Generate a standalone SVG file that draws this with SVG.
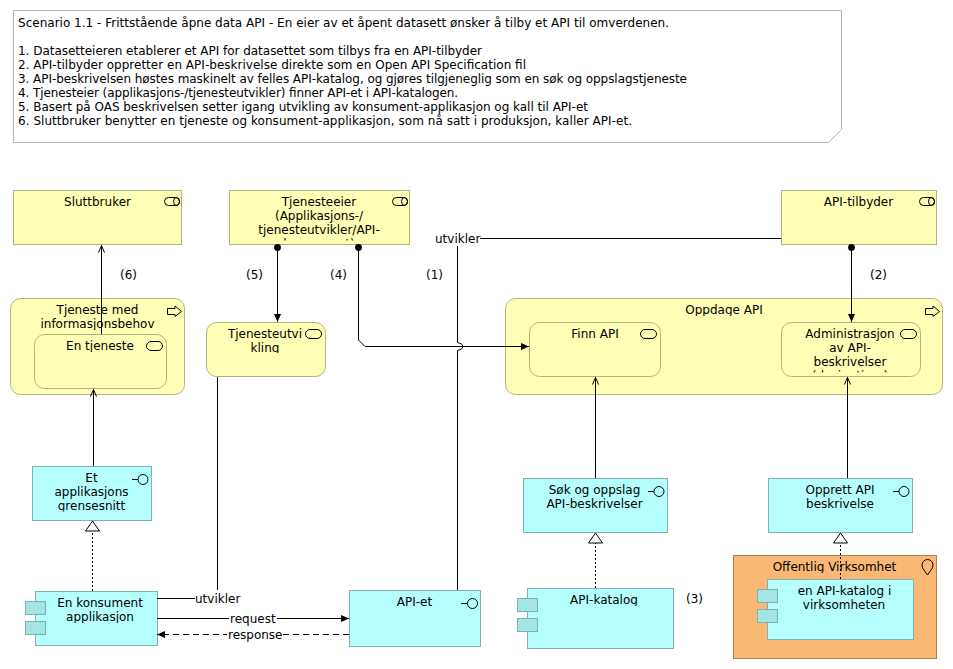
<svg xmlns="http://www.w3.org/2000/svg" width="953" height="669" viewBox="0 0 953 669">
<style>
text{font-family:"DejaVu Sans",sans-serif;font-size:12px;fill:#000}
.c{text-anchor:middle}
.biz{fill:#ffffb5;stroke:#b2b27e}
.app{fill:#b5ffff;stroke:#7eb2b2}
.tab{fill:#a3e5e5;stroke:#7eb2b2}
.loc{fill:#fbb875;stroke:#b08152}
.note{fill:#fff;stroke:#b3b3b3}
.icon{fill:none;stroke:#000}
.ln{fill:none;stroke:#000;stroke-width:1}
.dot{stroke-dasharray:2 2}
.dash{stroke-dasharray:6 4}
.bg{fill:#fff}
</style>
<defs>
<marker id="filled" markerUnits="userSpaceOnUse" markerWidth="10" markerHeight="10" refX="8" refY="4" orient="auto"><path d="M0 .5L8 4L0 7.5Z" fill="#000"/></marker>
<marker id="open" markerUnits="userSpaceOnUse" markerWidth="10" markerHeight="10" refX="7.500" refY="4" orient="auto"><path d="M0 1L7 4L0 7" fill="none" stroke="#000"/></marker>
<marker id="tri" markerUnits="userSpaceOnUse" markerWidth="14" markerHeight="18" refX="11" refY="8" orient="auto"><path d="M1 1L11 8L1 15Z" fill="#fff" stroke="#000"/></marker>
<marker id="ball" markerUnits="userSpaceOnUse" markerWidth="10" markerHeight="10" refX="5" refY="5" orient="auto"><circle cx="5" cy="5" r="3.400" fill="#000"/></marker>
<symbol id="actor" overflow="visible"><rect class="icon" x=".5" y=".5" width="15" height="8" rx="4"/><ellipse class="icon" cx="12.500" cy="4.500" rx="3" ry="4"/></symbol>
<clipPath id="k1"><rect x="229" y="190" width="181" height="50.500"/></clipPath>
<clipPath id="k2"><rect x="781" y="322" width="140" height="50.500"/></clipPath>
<clipPath id="k3"><rect x="32" y="466" width="120" height="45.500"/></clipPath>
<clipPath id="k4"><rect x="206" y="322" width="120" height="31"/></clipPath>
<clipPath id="k5"><rect x="505" y="298" width="437" height="18"/></clipPath>
<clipPath id="k6"><rect x="34" y="334" width="132" height="18"/></clipPath>
<clipPath id="k7"><rect x="10" y="298" width="174" height="32"/></clipPath>
<clipPath id="k8"><rect x="25" y="591" width="132" height="32"/></clipPath>
<clipPath id="k9"><rect x="527" y="588" width="146" height="18"/></clipPath>
<clipPath id="k10"><rect x="733" y="555" width="203" height="18"/></clipPath>
</defs>

<g id="note">
<path class="note" d="M13.500 10.500H841.500V129.500L828.500 142.500H13.500Z"/>
<text x="18" y="27" textLength="651">Scenario 1.1 - Frittstående åpne data API - En eier av et åpent datasett ønsker å tilby et API til omverdenen.</text>
<text x="18" y="55" textLength="464">1. Datasetteieren etablerer et API for datasettet som tilbys fra en API-tilbyder</text>
<text x="18" y="69" textLength="508">2. API-tilbyder oppretter en API-beskrivelse direkte som en Open API Specification fil</text>
<text x="18" y="83" textLength="669">3. API-beskrivelsen høstes maskinelt av felles API-katalog, og gjøres tilgjeneglig som en søk og oppslagstjeneste</text>
<text x="18" y="97" textLength="440">4. Tjenesteier (applikasjons-/tjenesteutvikler) finner API-et i API-katalogen.</text>
<text x="18" y="111" textLength="570">5. Basert på OAS beskrivelsen setter igang utvikling av konsument-applikasjon og kall til API-et</text>
<text x="18" y="125" textLength="614">6. Sluttbruker benytter en tjeneste og konsument-applikasjon, som nå satt i produksjon, kaller API-et.</text>
</g>

<g id="sluttbruker">
<rect class="biz" x="13.500" y="190.500" width="168" height="54"/>
<use href="#actor" x="164" y="197"/>
<text class="c" x="97.500" y="206">Sluttbruker</text>
</g>
<g id="tjenesteeier">
<rect class="biz" x="229.500" y="190.500" width="180" height="54"/>
<use href="#actor" x="392" y="197"/>
<g clip-path="url(#k1)">
<text class="c" x="319" y="206">Tjenesteeier</text>
<text class="c" x="319" y="220">(Applikasjons-/</text>
<text class="c" x="319" y="234">tjenesteutvikler/API-</text>
<text class="c" x="319" y="248">konsument)</text>
</g>
</g>
<g id="api-tilbyder">
<rect class="biz" x="781.500" y="190.500" width="155" height="54"/>
<use href="#actor" x="919" y="197"/>
<text class="c" x="858.500" y="206">API-tilbyder</text>
</g>
<g id="tjeneste-med">
<rect class="biz" x="10.500" y="298.500" width="174" height="96" rx="10"/>
<path class="icon" d="M167.500 308.500H175V306L181.500 311.500L175 316.500V314.500H167.500Z"/>
<g clip-path="url(#k7)">
<text class="c" x="97.500" y="314">Tjeneste med</text>
<text class="c" x="97.500" y="328">informasjonsbehov</text>
</g>
</g>
<g id="en-tjeneste">
<rect class="biz" x="34.500" y="334.500" width="132" height="54" rx="10"/>
<rect class="icon" x="146.500" y="341.500" width="16" height="9" rx="4.500"/>
<text class="c" x="100" y="350" clip-path="url(#k6)">En tjeneste</text>
</g>
<g id="tjenesteutvikling">
<rect class="biz" x="206.500" y="322.500" width="119" height="54" rx="10"/>
<rect class="icon" x="305.500" y="329.500" width="16" height="9" rx="4.500"/>
<g clip-path="url(#k4)">
<text class="c" x="265" y="338">Tjenesteutvi</text>
<text class="c" x="265" y="352">kling</text>
</g>
</g>
<g id="oppdage-api">
<rect class="biz" x="505.500" y="298.500" width="437" height="96" rx="10"/>
<path class="icon" d="M925.500 308.500H933V306L939.500 311.500L933 316.500V314.500H925.500Z"/>
<text class="c" x="724" y="314" clip-path="url(#k5)">Oppdage API</text>
</g>
<g id="finn-api">
<rect class="biz" x="529.500" y="322.500" width="131" height="54" rx="10"/>
<rect class="icon" x="640.500" y="329.500" width="16" height="9" rx="4.500"/>
<text class="c" x="595" y="338">Finn API</text>
</g>
<g id="administrasjon">
<rect class="biz" x="781.500" y="322.500" width="139" height="54" rx="10"/>
<rect class="icon" x="900.500" y="329.500" width="16" height="9" rx="4.500"/>
<g clip-path="url(#k2)">
<text class="c" x="850" y="338">Administrasjon</text>
<text class="c" x="850" y="352">av API-</text>
<text class="c" x="850" y="366">beskrivelser</text>
<text class="c" x="850" y="380">(designtime)</text>
</g>
</g>
<g id="et-applikasjonsgrensesnitt">
<rect class="app" x="32.500" y="466.500" width="119" height="54"/>
<path class="icon" d="M132 479.500H138"/><circle class="icon" cx="143" cy="479.500" r="5"/>
<g clip-path="url(#k3)">
<text class="c" x="91.500" y="482">Et</text>
<text class="c" x="91.500" y="496">applikasjons</text>
<text class="c" x="91.500" y="510">grensesnitt</text>
</g>
</g>
<g id="sok-og-oppslag">
<rect class="app" x="523.500" y="478.500" width="144" height="54"/>
<path class="icon" d="M648 491.500H654"/><circle class="icon" cx="659" cy="491.500" r="5"/>
<text class="c" x="594.500" y="494">Søk og oppslag</text>
<text class="c" x="594.500" y="508">API-beskrivelser</text>
</g>
<g id="opprett-api">
<rect class="app" x="768.500" y="478.500" width="144" height="54"/>
<path class="icon" d="M893 491.500H899"/><circle class="icon" cx="904" cy="491.500" r="5"/>
<text class="c" x="840" y="494">Opprett API</text>
<text class="c" x="840" y="508">beskrivelse</text>
</g>
<g id="en-konsument">
<rect class="app" x="35.500" y="591.500" width="122" height="54"/>
<rect class="tab" x="25.500" y="601.500" width="20" height="13"/>
<rect class="tab" x="25.500" y="621.500" width="20" height="13"/>
<g clip-path="url(#k8)">
<text class="c" x="100" y="607">En konsument</text>
<text class="c" x="100" y="621">applikasjon</text>
</g>
</g>
<g id="api-et">
<rect class="app" x="349.500" y="590.500" width="131" height="56"/>
<path class="icon" d="M461 603.500H467"/><circle class="icon" cx="472.500" cy="603.500" r="5"/>
<text class="c" x="414.500" y="606">API-et</text>
</g>
<g id="api-katalog">
<rect class="app" x="527.500" y="588.500" width="146" height="60"/>
<rect class="tab" x="517.500" y="598.500" width="20" height="13"/>
<rect class="tab" x="517.500" y="618.500" width="20" height="13"/>
<text class="c" x="604" y="604" clip-path="url(#k9)">API-katalog</text>
</g>
<g id="offentlig-virksomhet">
<rect class="loc" x="733.500" y="555.500" width="203" height="103"/>
<path class="icon" d="M927.500 575C924 570 922 568 922 565A5.500 5.500 0 0 1 933 565C933 568 931 570 927.500 575Z"/>
<text class="c" x="834.500" y="571" clip-path="url(#k10)">Offentlig Virksomhet</text>
</g>
<g id="en-api-katalog">
<rect class="app" x="767.500" y="579.500" width="146" height="60"/>
<rect class="tab" x="757.500" y="589.500" width="20" height="13"/>
<rect class="tab" x="757.500" y="609.500" width="20" height="13"/>
<text class="c" x="844.500" y="595">en API-katalog i</text>
<text class="c" x="844" y="609">virksomheten</text>
</g>

<g id="connectors">
<path class="ln" d="M101.500 334V245" marker-end="url(#open)"/>
<path class="ln" d="M93.500 466V389" marker-end="url(#open)"/>
<path class="ln" d="M277.500 247.500V322" marker-start="url(#ball)" marker-end="url(#filled)"/>
<path class="ln" d="M358.500 247.500V340L365 346.500H529" marker-start="url(#ball)" marker-end="url(#filled)"/>
<path class="ln" d="M851.500 247.500V322" marker-start="url(#ball)" marker-end="url(#filled)"/>
<path class="ln" d="M781 238.500H457.500V342.500Q463 343.500 463 346.500Q463 349.500 457.500 350.500V590"/>
<path class="ln" d="M217.500 377V598.500H157"/>
<path class="ln" d="M157 618.500H349" marker-end="url(#filled)"/>
<path class="ln dash" d="M349 634.500H157" marker-end="url(#filled)"/>
<path class="ln dot" d="M92.500 591V521" marker-end="url(#tri)"/>
<path class="ln dot" d="M595.500 588V533" marker-end="url(#tri)"/>
<path class="ln dot" d="M840.500 579V533" marker-end="url(#tri)"/>
<path class="ln" d="M595.500 478V377" marker-end="url(#open)"/>
<path class="ln" d="M847.500 478V377" marker-end="url(#open)"/>
<rect class="bg" x="435" y="231" width="45" height="15"/>
<text x="435" y="243">utvikler</text>
<rect class="bg" x="195" y="590" width="45" height="16"/>
<text x="195" y="603">utvikler</text>
<rect class="bg" x="229" y="611" width="48" height="15"/>
<text x="230" y="623">request</text>
<rect class="bg" x="227" y="627" width="56" height="15"/>
<text x="228" y="639">response</text>
</g>

<g id="label-6"><text x="120" y="279">(6)</text></g>
<g id="label-5"><text x="246" y="279">(5)</text></g>
<g id="label-4"><text x="330" y="279">(4)</text></g>
<g id="label-1"><text x="426" y="279">(1)</text></g>
<g id="label-2"><text x="870" y="279">(2)</text></g>
<g id="label-3"><text x="686" y="603">(3)</text></g>
</svg>
